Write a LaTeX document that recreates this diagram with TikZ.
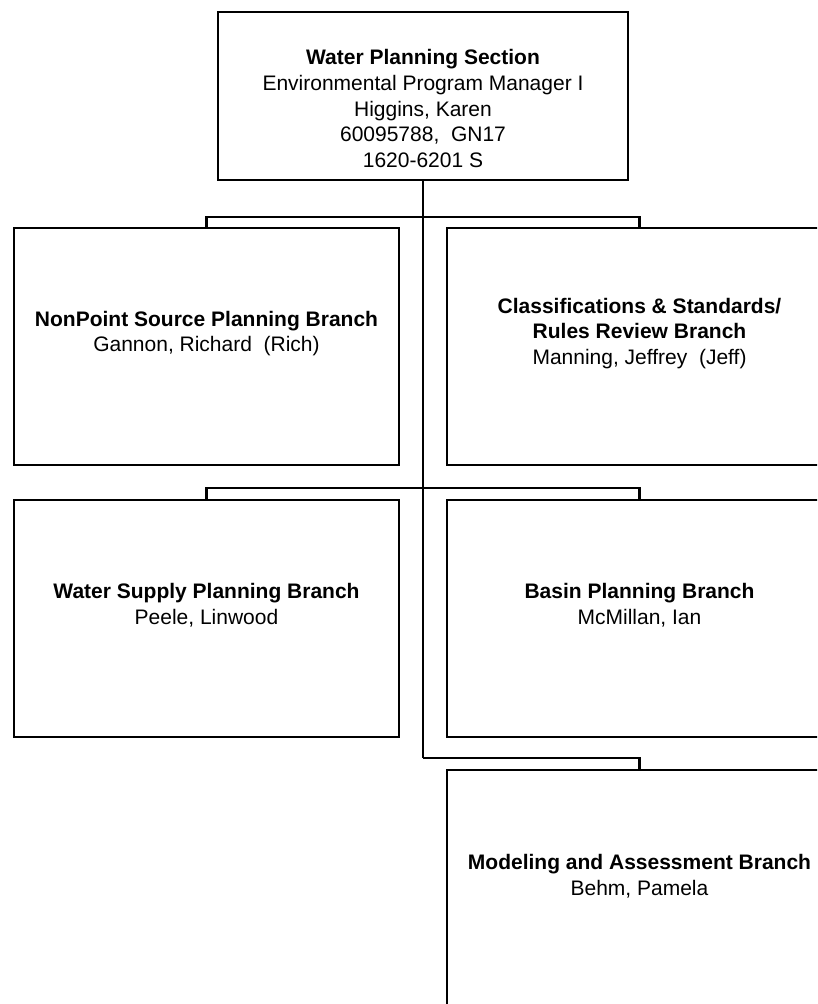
\documentclass[tikz,border=0pt]{standalone}
\usepackage{fontspec}
\setmainfont{Liberation Sans}
\usetikzlibrary{positioning}

\begin{document}
\begin{tikzpicture}[x=1pt, y=-1pt, line width=2.6pt,
        orgbox/.style={draw, rectangle, minimum width=385pt, minimum height=237pt, inner sep=0pt},
        orgtext/.style={align=center, inner sep=0pt, font=\fontsize{21}{25.6}\selectfont}]
                \useasboundingbox (0,0) rectangle (817,1004);
                \clip (0,0) rectangle (817,1004);
                % boxes
                \node[orgbox, minimum width=410pt, minimum height=168pt](wps) at (423,96){};
                \node[orgbox](nps) at (206.5,346.5){};
                \node[orgbox](crr) at (639.5,346.5){};
                \node[orgbox](wsp) at (206.5,618.5){};
                \node[orgbox](bpb) at (639.5,618.5){};
                \node[orgbox](mab) at (639.5,888.5){};
                % texts
                \node[orgtext](wps-t) at ([yshift=-12.5pt]wps.center){\textbf{Water Planning Section}\\Environmental Program Manager I\\Higgins, Karen\\60095788,\ \ GN17\\1620-6201 S};
                \node[orgtext](nps-t) at ([yshift=13pt]nps.center){\textbf{NonPoint Source Planning Branch}\\Gannon, Richard\ \ (Rich)};
                \node[orgtext](crr-t) at ([yshift=13pt]crr.center){\textbf{Classifications \& Standards/}\\\textbf{Rules Review Branch}\\Manning, Jeffrey\ \ (Jeff)};
                \node[orgtext](wsp-t) at ([yshift=13pt]wsp.center){\textbf{Water Supply Planning Branch}\\Peele, Linwood};
                \node[orgtext](bpb-t) at ([yshift=13pt]bpb.center){\textbf{Basin Planning Branch}\\McMillan, Ian};
                \node[orgtext](mab-t) at ([yshift=12pt]mab.center){\textbf{Modeling and Assessment Branch}\\Behm, Pamela};
                % connectors
                \coordinate(j1) at (423,217);
                \coordinate(j2) at (423,488);
                \coordinate(j3) at (423,758);
                \draw (wps.south) -- (j3);
                \draw (nps.north) |- (j1) -| (crr.north);
                \draw (wsp.north) |- (j2) -| (bpb.north);
                \draw (j3) -| (mab.north);
            \end{tikzpicture}
\end{document}
